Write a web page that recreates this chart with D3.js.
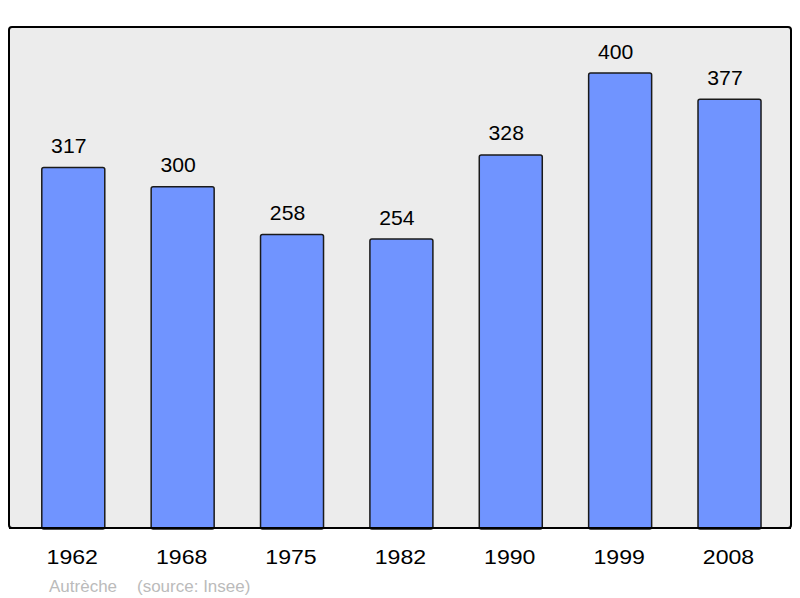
<!DOCTYPE html>
<html>
<head>
<meta charset="utf-8">
<script src="https://cdn.jsdelivr.net/npm/d3@7"></script>
<style>
  body { margin: 0; background: #fff; }
  svg { display: block; font-family: "Liberation Sans", Arial, sans-serif; }
</style>
</head>
<body>
<svg width="800" height="598"></svg>
<script>
// population by census year
const years = ["1962", "1968", "1975", "1982", "1990", "1999", "2008"];
const population = [317, 300, 258, 254, 328, 400, 377];
const commune = "Autrèche";
const source = "(source: Insee)";

const svg = d3.select("svg");

const data = years.map((y, i) => ({ year: y, value: population[i] }));

const xScale = d3.scaleBand().domain(years).range([18.6, 784.2])
    .paddingInner(0.424).paddingOuter(0.212);
const yScale = d3.scaleLinear().domain([0, 400]).range([528, 73]);
const cx = d => xScale(d.year) + xScale.bandwidth() / 2;

// panel
svg.append("rect")
    .attr("x", 9).attr("y", 27)
    .attr("width", 782).attr("height", 501)
    .attr("rx", 3)
    .style("fill", "#ececec")
    .style("stroke", "#000")
    .style("stroke-width", 2);

// bars
svg.append("g")
    .selectAll("rect")
    .data(data)
    .enter()
    .append("rect")
    .attr("x", d => xScale(d.year))
    .attr("y", d => yScale(d.value))
    .attr("width", xScale.bandwidth())
    .attr("height", d => yScale(0) - yScale(d.value) + 1)
    .attr("rx", 2)
    .style("fill", "#7094ff")
    .style("stroke", "#1a1a1a")
    .style("stroke-width", 1.5);

// value labels (slightly wide, as in the original)
svg.append("g")
    .selectAll("text")
    .data(data)
    .enter()
    .append("text")
    .attr("transform", d => "translate(" + (cx(d) - 4.5) + "," + (yScale(d.value) - 14.5) + ") scale(1.06,1)")
    .attr("text-anchor", "middle")
    .style("font-size", "20px")
    .style("fill", "#000")
    .text(d => d.value);

// panel bottom line over bars
svg.append("line")
    .attr("x1", 9).attr("x2", 791)
    .attr("y1", 528).attr("y2", 528)
    .style("stroke", "#000")
    .style("stroke-width", 2);

// year labels
svg.append("g")
    .selectAll("text")
    .data(data)
    .enter()
    .append("text")
    .attr("transform", d => "translate(" + (cx(d) - 1) + ",563.5) scale(1.1,1)")
    .attr("text-anchor", "middle")
    .style("font-size", "21px")
    .style("fill", "#000")
    .text(d => d.year);

// caption
svg.append("text")
    .attr("x", 49).attr("y", 591.5)
    .style("font-size", "17px")
    .style("fill", "#bbbbbb")
    .text(commune);
svg.append("text")
    .attr("x", 137).attr("y", 591.5)
    .style("font-size", "17px")
    .style("fill", "#bbbbbb")
    .text(source);
</script>
</body>
</html>
